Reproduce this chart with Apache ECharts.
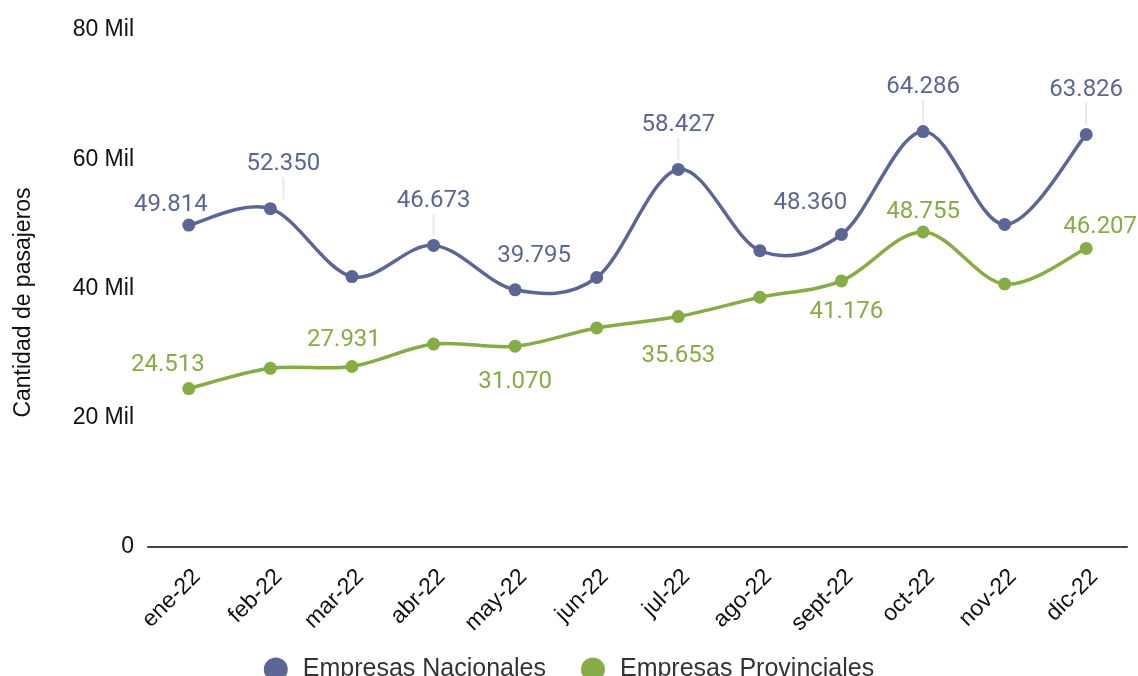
<!DOCTYPE html>
<html>
<head>
<meta charset="utf-8">
<title>Pasajeros 2022</title>
<script src="https://cdn.jsdelivr.net/npm/echarts@6/dist/echarts.min.js"></script>
<style>
  html, body { margin: 0; padding: 0; background: #fff; }
  #chart { width: 1138px; height: 676px; }
</style>
</head>
<body>
<div id="chart"></div>
<script>
// categorias (meses)
const meses = ['ene-22', 'feb-22', 'mar-22', 'abr-22', 'may-22', 'jun-22',
  'jul-22', 'ago-22', 'sept-22', 'oct-22', 'nov-22', 'dic-22'];

// pasajeros por mes
const nacionales = [49814, 52350, 41850, 46673, 39795, 41700,
  58427, 45850, 48360, 64286, 49900, 63826];
const provinciales = [24513, 27650, 27931, 31400, 31070, 33900,
  35653, 38650, 41176, 48755, 40700, 46207];

// ticks del eje y
const yTicks = [0, 20000, 40000, 60000, 80000];

const colorNac = '#5b6695';
const colorProv = '#86ac46';

// que puntos llevan etiqueta y como se colocan (solo estilo)
const etiquetasNac = {
  0: { position: 'top', offset: [-18, 3] },
  1: { guia: true, offset: [13, 0] },
  3: { guia: true },
  4: { position: 'top', offset: [19, -10] },
  6: { guia: true },
  8: { position: 'top', offset: [-31, -8] },
  9: { guia: true },
  11: { guia: true }
};
const etiquetasProv = {
  0: { position: 'top', offset: [-21, 0] },
  2: { position: 'top', offset: [-8, -3] },
  4: { position: 'bottom', offset: [0, 12] },
  6: { position: 'bottom', offset: [0, 16] },
  8: { position: 'bottom', offset: [5, 8] },
  9: { position: 'top', offset: [0, 4] },
  11: { position: 'top', offset: [14, 2] }
};

// 49814 -> "49.814"
function formatoMiles(v) {
  return String(Math.round(v)).replace(/\B(?=(\d{3})+(?!\d))/g, '.');
}

// arma los items con su etiqueta
function armarDatos(valores, etiquetas, color) {
  return valores.map((v, i) => {
    const cfg = etiquetas[i];
    if (!cfg) return { value: v, label: { show: false } };
    if (cfg.guia) {
      return {
        value: v,
        label: {
          show: true,
          position: 'top',
          distance: 3,
          offset: cfg.offset || [0, 0],
          formatter: '{v|' + formatoMiles(v) + '}\n{l| }',
          rich: {
            v: { color: color, fontSize: 24, fontFamily: 'Roboto', lineHeight: 26 },
            l: { width: 2, height: 22, backgroundColor: '#e8e8e8', fontSize: 1 }
          }
        }
      };
    }
    return {
      value: v,
      label: {
        show: true,
        position: cfg.position,
        offset: cfg.offset,
        formatter: formatoMiles(v)
      }
    };
  });
}

// curva tipo catmull-rom entre puntos (la de echarts no se pasa de los extremos)
function curva(valores, color) {
  const n = valores.length;
  return {
    type: 'custom',
    silent: true,
    z: 1,
    data: valores.map((v, i) => [i, v]),
    encode: { x: 0, y: 1 },
    renderItem: (params, api) => {
      const i = params.dataIndex;
      if (i >= n - 1) return null;
      const p = j => {
        const k = Math.max(0, Math.min(n - 1, j));
        return api.coord([k, valores[k]]);
      };
      const p0 = p(i - 1), p1 = p(i), p2 = p(i + 1), p3 = p(i + 2);
      return {
        type: 'bezierCurve',
        shape: {
          x1: p1[0], y1: p1[1],
          cpx1: p1[0] + (p2[0] - p0[0]) / 6,
          cpy1: p1[1] + (p2[1] - p0[1]) / 6,
          cpx2: p2[0] - (p3[0] - p1[0]) / 6,
          cpy2: p2[1] - (p3[1] - p1[1]) / 6,
          x2: p2[0], y2: p2[1]
        },
        style: { stroke: color, lineWidth: 3.5, fill: null, lineCap: 'round' }
      };
    }
  };
}

const chart = echarts.init(document.getElementById('chart'));

const option = {
  animation: false,
  grid: {
    left: 148,
    right: 11,
    top: 30,
    bottom: 129
  },
  legend: {
    left: 'center',
    top: 652,
    icon: 'circle',
    itemWidth: 24,
    itemHeight: 24,
    itemGap: 35,
    textStyle: {
      fontSize: 25,
      color: '#333',
      fontFamily: 'Liberation Sans',
      padding: [0, 0, 0, 10]
    },
    data: ['Empresas Nacionales', 'Empresas Provinciales']
  },
  xAxis: {
    type: 'category',
    data: meses,
    boundaryGap: true,
    axisLine: { lineStyle: { color: '#444', width: 2 } },
    axisTick: { show: false },
    axisLabel: {
      rotate: 45,
      margin: 18,
      verticalAlign: 'top',
      fontSize: 23,
      color: '#111',
      fontFamily: 'Liberation Sans'
    }
  },
  yAxis: {
    type: 'value',
    min: yTicks[0],
    max: yTicks[yTicks.length - 1],
    interval: yTicks[1] - yTicks[0],
    name: 'Cantidad de pasajeros',
    nameLocation: 'middle',
    nameGap: 113,
    nameTextStyle: {
      fontSize: 23,
      color: '#111',
      fontFamily: 'Liberation Sans',
      padding: [0, 0, 0, -28]
    },
    axisLine: { show: false },
    axisTick: { show: false },
    splitLine: { show: false },
    axisLabel: {
      margin: 14,
      fontSize: 23,
      color: '#111',
      fontFamily: 'Liberation Sans',
      formatter: v => v === 0 ? '0' : (v / 1000) + ' Mil'
    }
  },
  series: [
    curva(nacionales, colorNac),
    curva(provinciales, colorProv),
    {
      name: 'Empresas Nacionales',
      type: 'line',
      z: 3,
      symbol: 'circle',
      symbolSize: 13,
      color: colorNac,
      lineStyle: { width: 0, opacity: 0 },
      itemStyle: { color: colorNac },
      label: { color: colorNac, fontSize: 24, fontFamily: 'Roboto' },
      data: armarDatos(nacionales, etiquetasNac, colorNac)
    },
    {
      name: 'Empresas Provinciales',
      type: 'line',
      z: 3,
      symbol: 'circle',
      symbolSize: 13,
      color: colorProv,
      lineStyle: { width: 0, opacity: 0 },
      itemStyle: { color: colorProv },
      label: { color: colorProv, fontSize: 24, fontFamily: 'Roboto' },
      data: armarDatos(provinciales, etiquetasProv, colorProv)
    }
  ]
};

chart.setOption(option);
</script>
</body>
</html>
